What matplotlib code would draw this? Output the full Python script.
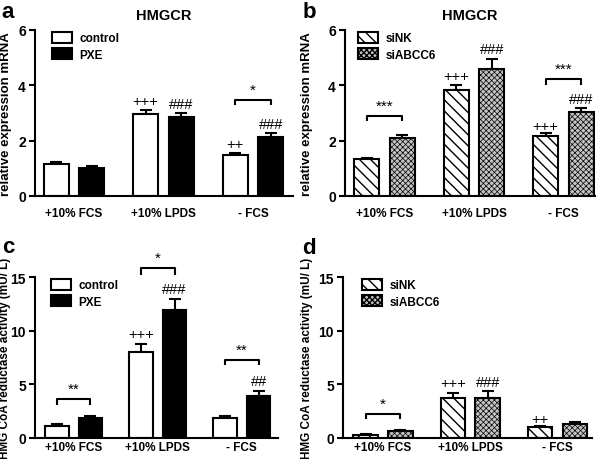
import matplotlib
matplotlib.use("Agg")
import matplotlib.pyplot as plt
from matplotlib.patches import Patch

plt.rcParams['font.family'] = ['Liberation Sans', 'DejaVu Sans']

categories = ['+10% FCS', '+10% LPDS', '- FCS']

a_control = [1.17, 2.96, 1.49]
a_control_err = [0.07, 0.15, 0.08]
a_pxe = [1.03, 2.87, 2.12]
a_pxe_err = [0.05, 0.12, 0.17]

b_sink = [1.32, 3.84, 2.16]
b_sink_err = [0.07, 0.19, 0.10]
b_siabcc6 = [2.09, 4.58, 3.05]
b_siabcc6_err = [0.13, 0.36, 0.13]

c_control = [1.12, 8.04, 1.83]
c_control_err = [0.15, 0.70, 0.22]
c_pxe = [1.89, 11.93, 3.88]
c_pxe_err = [0.13, 1.05, 0.50]

d_sink = [0.31, 3.75, 0.99]
d_sink_err = [0.06, 0.45, 0.12]
d_siabcc6 = [0.68, 3.75, 1.30]
d_siabcc6_err = [0.09, 0.62, 0.19]

# (group, bar 0/1, text, y)
a_marks = [(1, 0, '+++', 3.36), (1, 1, '###', 3.24), (2, 0, '++', 1.79), (2, 1, '###', 2.54)]
a_brackets = [(2, 3.47, 3.29, '*')]
b_marks = [(1, 0, '+++', 4.26), (1, 1, '###', 5.25), (2, 0, '+++', 2.45), (2, 1, '###', 3.45)]
b_brackets = [(0, 2.88, 2.70, '***'), (2, 4.22, 4.00, '***')]
c_marks = [(1, 0, '+++', 9.5), (1, 1, '###', 13.7), (2, 1, '##', 5.15)]
c_brackets = [(0, 3.66, 3.10, '**'), (1, 15.8, 15.2, '*'), (2, 7.3, 6.77, '**')]
d_marks = [(1, 0, '+++', 4.9), (1, 1, '###', 5.0), (2, 0, '++', 1.58)]
d_brackets = [(0, 2.26, 1.73, '*')]

fig = plt.figure(figsize=(6, 4.6), dpi=100)

W, H = 600, 460
def add_ax(l, r, b, t):
    return fig.add_axes([l / W, 1 - b / H, (r - l) / W, (b - t) / H])

axa = add_ax(35, 293, 197, 31)
axb = add_ax(345, 595, 197, 31)
axc = add_ax(35, 278, 439, 278)
axd = add_ax(343, 592, 439, 278)

LW = 1.5
BW = 0.28
OFF = 0.2

def style1(key):
    if key == 'control':
        return dict(facecolor='white', hatch=None)
    if key == 'PXE':
        return dict(facecolor='black', hatch=None)
    if key == 'siNK':
        return dict(facecolor='white', hatch='\\\\\\')
    return dict(facecolor='#c4c4c4', hatch='xxxxxx')

def panel(ax, s1, e1, s2, e2, names, ylim, yticks, xlim, marks, brackets,
          ylabel, ylsize, ylx, title, legxy, xpad):
    x = list(range(len(categories)))
    span = ylim[1] - ylim[0]
    for k, (vals, errs, nm) in enumerate([(s1, e1, names[0]), (s2, e2, names[1])]):
        pos = [xi + (-OFF if k == 0 else OFF) for xi in x]
        st = style1(nm)
        bb = ax.bar(pos, vals, BW, facecolor=st['facecolor'], edgecolor='black',
                    linewidth=LW, hatch=st['hatch'], zorder=2, label=nm)
        for p in bb:
            if st['hatch'] is not None and hasattr(p, 'set_hatch_linewidth'):
                p.set_hatch_linewidth(1.0 if nm == 'siNK' else 0.5)
        ax.errorbar(pos, vals, yerr=[[0] * len(vals), errs], fmt='none',
                    ecolor='black', elinewidth=LW, capsize=4.5, capthick=LW, zorder=1)
    for g, k, t, yy in marks:
        ax.text(g + (-OFF if k == 0 else OFF), yy + span * 0.012, t, ha='center',
                va='center', fontsize=10.5, clip_on=False)
    for g, ytop, ybot, t in brackets:
        x0, x1 = g - OFF, g + OFF
        ax.plot([x0, x0, x1, x1], [ybot, ytop, ytop, ybot], color='black',
                lw=LW, clip_on=False, solid_capstyle='butt')
        ax.text(g, ytop + span * 0.02, t, ha='center', va='bottom',
                fontsize=11, clip_on=False)
    ax.set_xlim(*xlim)
    ax.set_ylim(*ylim)
    ax.set_yticks(yticks)
    ax.set_yticklabels([str(v) for v in yticks], fontsize=10, fontweight='bold')
    ax.set_xticks(x)
    ax.set_xticklabels(categories, fontsize=8.5, fontweight='bold')
    ax.tick_params(axis='x', length=0, pad=xpad)
    ax.tick_params(axis='y', length=4.5, width=LW, pad=2, direction='out')
    for s in ['top', 'right']:
        ax.spines[s].set_visible(False)
    for s in ['left', 'bottom']:
        ax.spines[s].set_linewidth(LW)
    ax.set_ylabel(ylabel, fontsize=ylsize, fontweight='bold')
    ax.yaxis.set_label_coords(ylx, 0.5)
    if title:
        ax.set_title(title, fontsize=10.5, fontweight='bold', pad=8)
    handles = []
    for nm in names:
        st = style1(nm)
        handles.append(Patch(facecolor=st['facecolor'], edgecolor='black',
                             linewidth=LW, hatch=st['hatch'], label=nm))
    ax.legend(handles=handles, loc='upper left', bbox_to_anchor=legxy,
              frameon=False, borderaxespad=0, borderpad=0,
              handlelength=1.75, handleheight=1.05, handletextpad=0.6,
              labelspacing=0.35, prop=dict(size=8.5, weight='bold'))
    return ax

panel(axa, a_control, a_control_err, a_pxe, a_pxe_err, ['control', 'PXE'],
      (0, 6), [0, 2, 4, 6], (-0.436, 2.447), a_marks, a_brackets,
      'relative expression mRNA', 9.5, -0.09, 'HMGCR', (0.065, 0.99), 8)
panel(axb, b_sink, b_sink_err, b_siabcc6, b_siabcc6_err, ['siNK', 'siABCC6'],
      (0, 6), [0, 2, 4, 6], (-0.441, 2.352), b_marks, b_brackets,
      'relative expression mRNA', 9.5, -0.128, 'HMGCR', (0.05, 0.99), 8)
panel(axc, c_control, c_control_err, c_pxe, c_pxe_err, ['control', 'PXE'],
      (0, 15), [0, 5, 10, 15], (-0.46, 2.43), c_marks, c_brackets,
      'HMG CoA reductase activity (mU/ L)', 8.5, -0.097, None, (0.065, 0.99), 2.5)
panel(axd, d_sink, d_sink_err, d_siabcc6, d_siabcc6_err, ['siNK', 'siABCC6'],
      (0, 15), [0, 5, 10, 15], (-0.458, 2.395), d_marks, d_brackets,
      'HMG CoA reductase activity (mU/ L)', 8.5, -0.122, None, (0.075, 0.99), 2.5)

for lt, xx, yy in [('a', 1, 12), ('b', 303, 12), ('c', 2, 248), ('d', 302, 249)]:
    fig.text(xx / W, 1 - yy / H, lt, fontsize=16, fontweight='bold',
             ha='left', va='center')

fig.savefig('out.png', dpi=100)
